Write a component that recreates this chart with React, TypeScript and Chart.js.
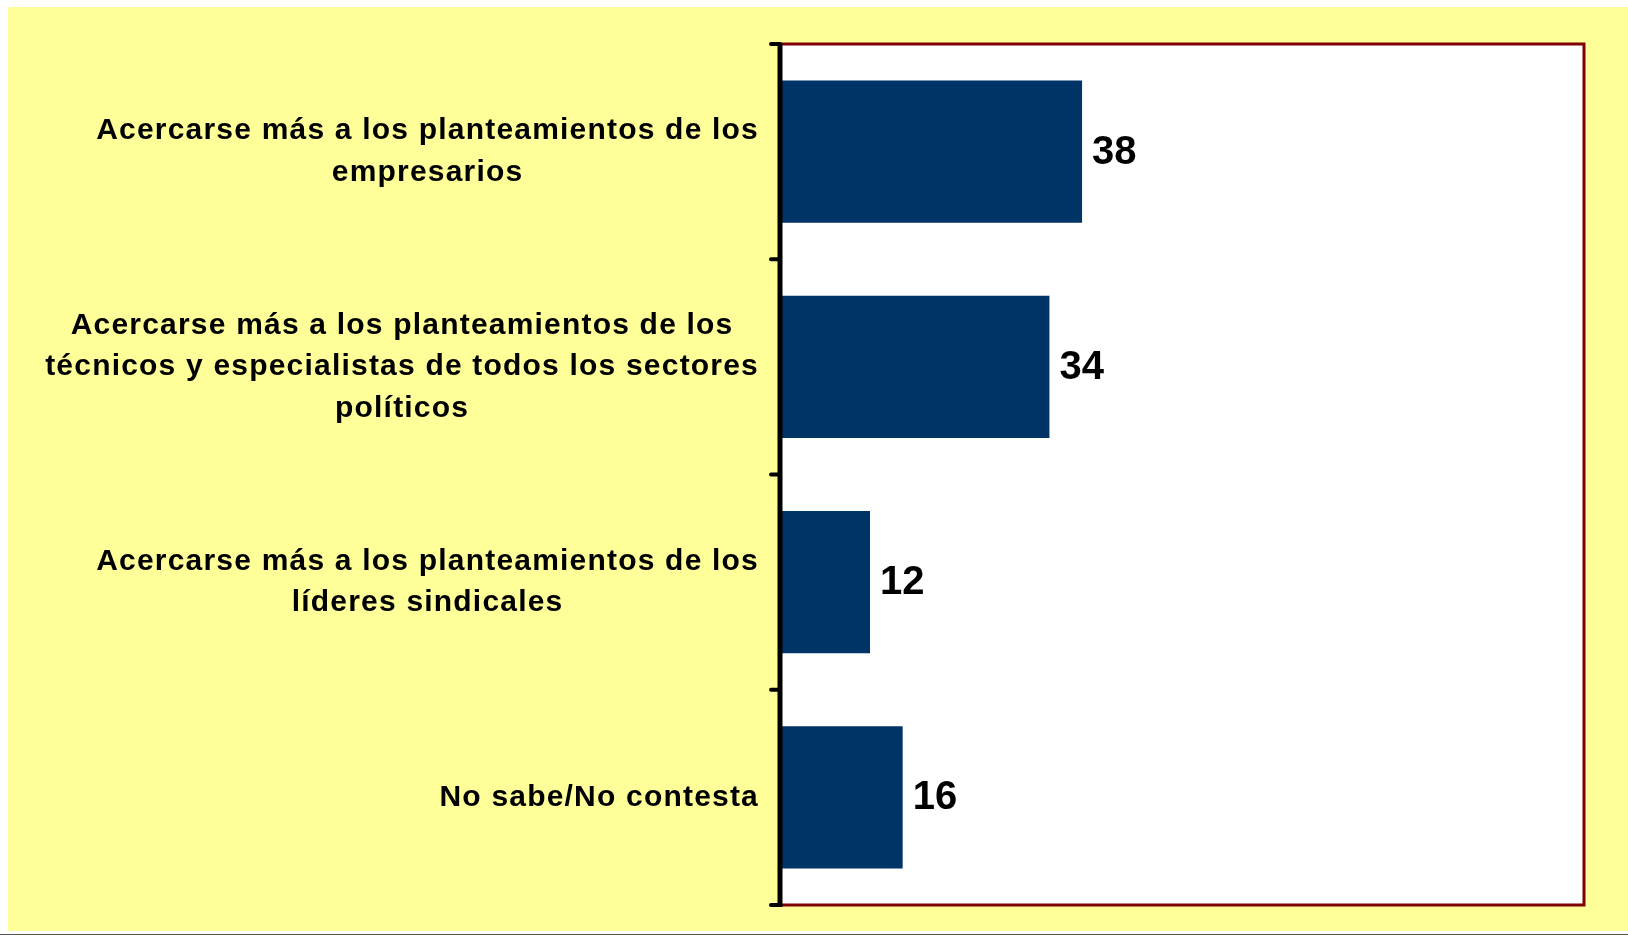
import React, { useEffect, useRef } from "react";
import { Chart, registerables } from "chart.js";

Chart.register(...registerables);

const categories: string[][] = [
  ["Acercarse más a los planteamientos de los", "empresarios"],
  [
    "Acercarse más a los planteamientos de los",
    "técnicos y especialistas de todos los sectores",
    "políticos",
  ],
  ["Acercarse más a los planteamientos de los", "líderes sindicales"],
  ["No sabe/No contesta"],
];

const values: number[] = [38, 34, 12, 16];

const axisMin = 0.96;
const axisMax = 99.55;

const W = 1628;
const H = 936;

const decorPlugin = {
  id: "decor",
  beforeDraw(chart: any) {
    const { ctx, chartArea } = chart;
    ctx.save();
    ctx.fillStyle = "#FFFF99";
    ctx.fillRect(8, 7, W - 8, 924);
    ctx.fillStyle = "#FFFFFF";
    ctx.fillRect(chartArea.left, chartArea.top, chartArea.right - chartArea.left, chartArea.bottom - chartArea.top);
    ctx.strokeStyle = "#555555";
    ctx.lineWidth = 1;
    ctx.beginPath();
    ctx.moveTo(0, 934.5);
    ctx.lineTo(W, 934.5);
    ctx.stroke();
    ctx.restore();
  },
  afterDatasetsDraw(chart: any) {
    const { ctx, chartArea } = chart;
    const yScale = chart.scales.y;
    const meta = chart.getDatasetMeta(0);
    ctx.save();
    // plot border
    ctx.strokeStyle = "#800000";
    ctx.lineWidth = 3;
    ctx.beginPath();
    ctx.moveTo(chartArea.left, chartArea.top);
    ctx.lineTo(chartArea.right, chartArea.top);
    ctx.lineTo(chartArea.right, chartArea.bottom);
    ctx.lineTo(chartArea.left, chartArea.bottom);
    ctx.stroke();
    // axis line
    ctx.strokeStyle = "#000000";
    ctx.lineWidth = 5;
    ctx.lineCap = "butt";
    ctx.beginPath();
    ctx.moveTo(chartArea.left, chartArea.top - 1);
    ctx.lineTo(chartArea.left, chartArea.bottom + 2);
    ctx.stroke();
    // ticks at category boundaries
    const n = categories.length;
    const step = (chartArea.bottom - chartArea.top) / n;
    ctx.lineWidth = 4;
    ctx.lineCap = "round";
    for (let i = 0; i <= n; i++) {
      const y = chartArea.top + i * step;
      ctx.beginPath();
      ctx.moveTo(chartArea.left - 9, y);
      ctx.lineTo(chartArea.left, y);
      ctx.stroke();
    }
    // category labels
    ctx.fillStyle = "#000000";
    ctx.font = 'bold 30px "Liberation Sans", Arial, sans-serif';
    (ctx as any).letterSpacing = "1.2px";
    ctx.textAlign = "center";
    ctx.textBaseline = "middle";
    const rightEdge = chartArea.left - 22;
    const lineH = 41.5;
    categories.forEach((lines, i) => {
      const cy = yScale.getPixelForValue(i);
      let maxW = 0;
      lines.forEach((l) => {
        maxW = Math.max(maxW, ctx.measureText(l).width);
      });
      const cx = rightEdge - maxW / 2;
      lines.forEach((l, j) => {
        const y = cy + (j - (lines.length - 1) / 2) * lineH;
        ctx.fillText(l, cx + 1, y);
      });
    });
    // value labels
    (ctx as any).letterSpacing = "0px";
    ctx.font = 'bold 40px "Liberation Sans", Arial, sans-serif';
    ctx.textAlign = "left";
    meta.data.forEach((bar: any, i: number) => {
      ctx.fillText(String(values[i]), bar.x + 10, bar.y + 1);
    });
    ctx.restore();
  },
};

export default function App() {
  const ref = useRef<HTMLCanvasElement | null>(null);
  useEffect(() => {
    if (!ref.current) return;
    const chart = new Chart(ref.current, {
      type: "bar",
      data: {
        labels: categories,
        datasets: [
          {
            data: values,
            backgroundColor: "#003366",
            borderWidth: 0,
            categoryPercentage: 1,
            barPercentage: 0.662,
          },
        ],
      },
      options: {
        indexAxis: "y",
        responsive: false,
        animation: false,
        layout: { padding: { left: 780, right: 44, top: 44, bottom: 31 } },
        plugins: { legend: { display: false }, tooltip: { enabled: false } },
        scales: {
          x: { display: false, min: axisMin, max: axisMax },
          y: { display: false },
        },
      },
      plugins: [decorPlugin],
    });
    return () => chart.destroy();
  }, []);
  return (
    <div style={{ position: "absolute", left: 0, top: 0, width: W, height: H }}>
      <canvas ref={ref} width={W} height={H} style={{ width: W, height: H, display: "block" }} />
    </div>
  );
}
